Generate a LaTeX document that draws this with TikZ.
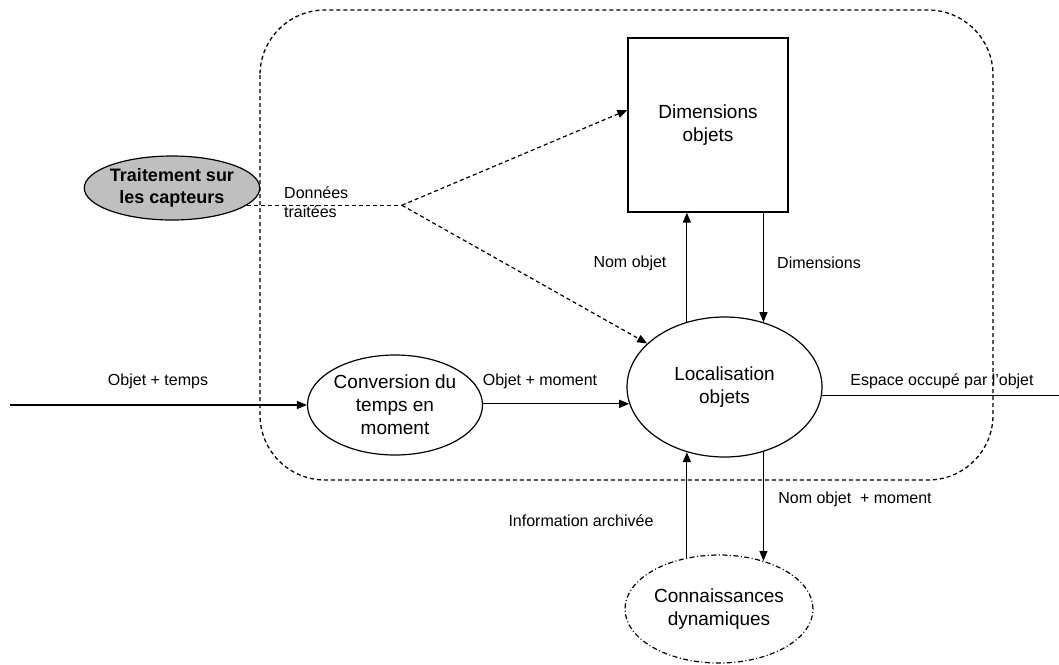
\documentclass[tikz,border=0pt]{standalone}
\usepackage{fontspec}
\setmainfont{Liberation Sans}
\usetikzlibrary{shapes.geometric,arrows.meta}

\tikzset{
  proc/.style={draw, ellipse, line width=1.2pt, inner sep=0pt, align=center,
               font=\fontsize{19}{23}\selectfont},
  store/.style={draw, rectangle, line width=1.2pt, inner sep=0pt, align=center,
                font=\fontsize{19}{23}\selectfont},
  flow/.style={line width=1.2pt, -{Triangle[length=10pt,width=8pt]}},
  dflow/.style={flow, dash pattern=on 4pt off 3pt},
  dline/.style={line width=1.3pt, dash pattern=on 4pt off 3pt},
  lbl/.style={font=\fontsize{16}{19}\selectfont, inner sep=0pt, align=center},
}

\begin{document}
\begin{tikzpicture}[x=1pt,y=-1pt]
\useasboundingbox (0,0) rectangle (1059,664);

% system boundary
\draw[dline, rounded corners=65pt] (260,10) rectangle (993,480);

% processes and stores
\node[proc, fill=gray!50, minimum width=142pt, minimum height=64pt,
      font=\fontsize{18}{22}\selectfont\bfseries] (trait) at (172,188)
      {Traitement sur\\les capteurs};
\node[proc, minimum width=175pt, minimum height=100pt] (conv) at (395,405)
      {Conversion du\\temps en\\moment};
\node[proc, minimum width=195pt, minimum height=140pt] (loc) at (724.5,387)
      {Localisation\\objets};
\node[proc, minimum width=188pt, minimum height=108pt,
      dash pattern=on 5pt off 2.5pt on 1pt off 2.5pt] (conn) at (719,609)
      {Connaissances\\dynamiques};
\node[store, minimum width=160pt, minimum height=174pt] (dim) at (708,125)
      {Dimensions\\objets};

% external ends and the split point
\coordinate (in) at (10,405);
\path (trait.-13) ++(155,0) coordinate (J);
\coordinate (out) at (1059,393);

% sensor data
\draw[dline] (trait.-13) -- (J);
\draw[dflow] (J) -- ([yshift=15pt]dim.west);
\draw[dflow] (J) -- (loc);

% main flow
\draw[flow] (in) -- (conv.west);
\draw[flow] (loc.190 -| conv.east) -- (loc.190);
\draw[line width=1.2pt] (loc.-5) -- (out |- loc.-5);

% object dimensions
\draw[flow] (loc.120) -- (loc.120 |- dim.south);
\draw[flow] (dim.south -| loc.59) -- (loc.59);

% dynamic knowledge
\draw[flow] (loc.240 |- conn.122) -- (loc.240);
\draw[flow] (loc.301) -- (loc.301 |- conn.47);

% labels
\node[lbl, align=left, anchor=west] (l1) at (284,202) {Données\\traitées};
\node[lbl] (l2) at (158,381) {Objet + temps};
\node[lbl] (l3) at (540,381) {Objet + moment};
\node[lbl] (l4) at (630,263) {Nom objet};
\node[lbl] (l5) at (819,263) {Dimensions};
\node[lbl] (l6) at (942,381) {Espace occupé par l’objet};
\node[lbl] (l7) at (581,521) {Information archivée};
\node[lbl] (l8) at (855,499) {Nom objet\ \ + moment};
\end{tikzpicture}
\end{document}
